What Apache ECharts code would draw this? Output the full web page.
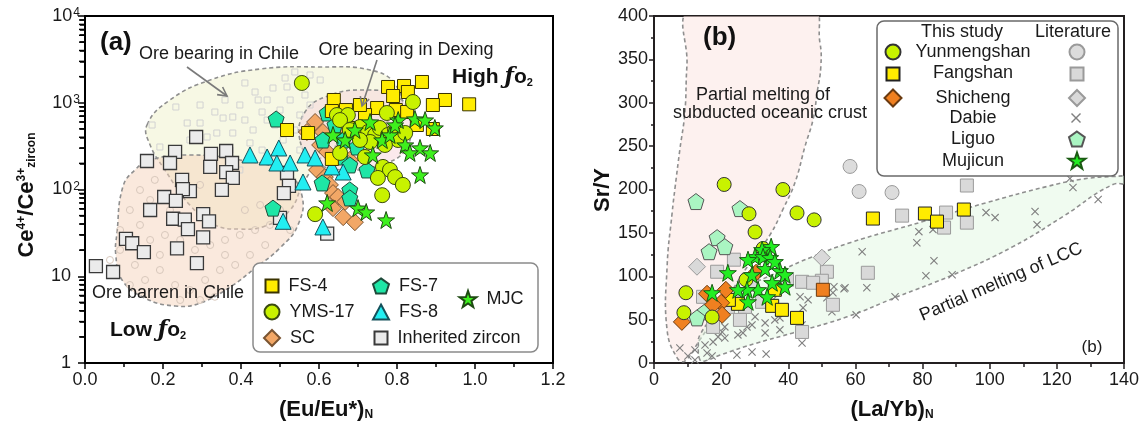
<!DOCTYPE html>
<html><head><meta charset="utf-8">
<script src="https://cdn.jsdelivr.net/npm/echarts/dist/echarts.min.js"></script>
<style>html,body{margin:0;padding:0;background:#fff}#c{width:1146px;height:426px}</style>
</head><body><div id="c"></div>
<script>
// ===== Panel (a): [(Eu/Eu*)N, Ce4+/Ce3+ zircon] =====
const aFS4 = [[0.777,1520],[0.818,1560],[0.864,1735],[0.790,1196],[0.828,1330],[0.638,1076],[0.923,1076],[0.892,942],[0.985,959],[0.749,870],[0.797,824],[0.826,782],[0.633,803],[0.669,824],[0.572,448],[0.518,485],[0.633,225],[0.685,512],[0.851,554],[0.892,498],[0.718,722],[0.705,942]];
const aYMS17 = [[0.556,1690],[0.646,722],[0.674,722],[0.654,632],[0.774,762],[0.841,1020],[0.654,264],[0.718,237],[0.764,182],[0.782,168],[0.751,136],[0.795,139],[0.815,113],[0.762,86],[0.590,52],[0.705,525],[0.726,460],[0.744,425],[0.756,512],[0.777,425],[0.795,485],[0.803,372],[0.769,326],[0.731,353],[0.705,372],[0.821,448],[0.679,485]];
const aSC = [[0.590,600],[0.569,460],[0.610,460],[0.603,326],[0.621,271],[0.595,168],[0.615,139],[0.628,113],[0.636,91],[0.649,82],[0.667,72],[0.636,61],[0.662,48],[0.692,42],[0.679,219],[0.654,485]];
const aFS7 = [[0.490,650],[0.482,61],[0.621,762],[0.610,372],[0.662,372],[0.654,237],[0.679,192],[0.723,168],[0.608,119],[0.679,99],[0.679,80],[0.697,309],[0.641,554]];
const aFS8 = [[0.423,250],[0.467,237],[0.497,301],[0.492,202],[0.526,202],[0.564,250],[0.590,231],[0.559,122],[0.508,43],[0.610,37],[0.662,159],[0.633,182]];
const aInherited = [[0.285,403],[0.159,213],[0.231,271],[0.218,202],[0.323,257],[0.362,278],[0.321,182],[0.377,202],[0.362,159],[0.379,136],[0.351,99],[0.249,129],[0.269,96],[0.251,101],[0.203,82],[0.233,74],[0.167,58],[0.303,52],[0.318,43],[0.226,46],[0.256,45],[0.264,35],[0.303,28],[0.105,27],[0.121,24],[0.151,19],[0.236,21],[0.287,14.2],[0.028,13.1],[0.072,11.2],[0.518,155],[0.523,110],[0.510,91],[0.500,47],[0.621,31]];
const aMJC = [[0.803,632],[0.846,650],[0.872,632],[0.897,512],[0.636,425],[0.692,485],[0.731,600],[0.762,372],[0.782,425],[0.821,326],[0.859,301],[0.885,264],[0.833,264],[0.738,250],[0.859,147],[0.621,70],[0.700,61],[0.721,55],[0.772,44.5],[0.667,372],[0.795,554]];
// faint literature points (Chile)
const aChileOre = [[0.538,2262],[0.518,1520],[0.482,1479],[0.467,1076],[0.444,1076],[0.410,1690],[0.379,685],[0.354,667],[0.295,584],[0.262,584],[0.233,893],[0.172,554],[0.192,309],[0.313,403],[0.379,448],[0.431,485],[0.467,632],[0.500,824],[0.526,1076],[0.423,344],[0.338,448],[0.551,1603],[0.577,2089],[0.564,1228],[0.454,782],[0.487,554],[0.508,372],[0.397,942],[0.359,1076],[0.551,722],[0.538,485],[0.454,285],[0.372,285],[0.295,942],[0.577,942],[0.603,1829],[0.436,1330],[0.513,1928],[0.410,632],[0.333,782],[0.269,372],[0.474,219],[0.397,168],[0.551,285]];
const aChileBarren = [[0.115,58],[0.141,39],[0.167,26.2],[0.205,29.9],[0.244,26.2],[0.282,20.1],[0.321,22.9],[0.359,26.2],[0.397,29.9],[0.436,34.1],[0.474,39],[0.090,20.1],[0.128,13.5],[0.154,9.06],[0.192,11.8],[0.231,7.93],[0.269,6.94],[0.308,9.06],[0.346,11.8],[0.385,13.5],[0.423,17.6],[0.462,22.9],[0.295,5.32],[0.333,5.8],[0.244,5.32],[0.192,17.6],[0.115,7.93],[0.090,34.1],[0.500,58],[0.526,34.1],[0.410,58],[0.167,75.7],[0.218,58],[0.141,98.7],[0.359,17.6],[0.282,13.5],[0.064,15.4],[0.449,66.3],[0.179,129],[0.295,113]];
// field outlines (a)
const aRegionChileOre = [[0.159,554],[0.218,1076],[0.321,1829],[0.449,2449],[0.603,2583],[0.731,2386],[0.795,1645],[0.808,824],[0.731,485],[0.628,285],[0.564,129],[0.526,58],[0.462,38],[0.397,35],[0.333,39],[0.269,66],[0.205,168],[0.167,326]];
const aRegionChileBarren = [[0.082,31.5],[0.097,107],[0.128,168],[0.167,219],[0.269,250],[0.397,219],[0.513,159],[0.556,86],[0.546,39],[0.500,21.2],[0.436,12.4],[0.372,7.5],[0.295,4.9],[0.231,4.54],[0.154,5.6],[0.095,9.06],[0.079,17.6]];
const aRegionDexing = [[0.551,372],[0.564,782],[0.623,1196],[0.718,1403],[0.803,1165],[0.833,632],[0.821,285],[0.756,192],[0.667,168],[0.590,207]];
const aMinorY = [2,3,4,5,6,7,8,9,20,30,40,50,60,70,80,90,200,300,400,500,600,700,800,900,2000,3000,4000,5000,6000,7000,8000,9000];

// ===== Panel (b): [(La/Yb)N, Sr/Y] =====
const bYmsThis = [[20.9,205.8],[38.4,200],[28.3,172],[42.6,173],[47.7,165],[30.1,151],[32.5,132],[27.4,96],[9.5,81],[8.9,58],[17.3,53]];
const bFsThis = [[25.0,68.2],[35.2,65.9],[38.1,61.3],[42.6,52.0],[65.2,166.5],[80.7,172.3],[84.3,163.0],[92.3,176.9],[36.0,84.4],[22.3,72.8]];
const bScThis = [[8.3,47.4],[15.8,79.8],[21.4,84.4],[20.0,69.4],[20.3,55.5],[30.4,104.0],[17.6,67.1]];
const bScThisSq = [[50.3,84.4]];
const bYmsLit = [[58.4,226.6],[61.1,197.7],[70.9,196.5]];
const bFsLit = [[93.2,204.6],[73.9,169.9],[87.0,173.4],[86.4,156.1],[93.2,161.8],[63.7,104.0],[51.5,105.2],[50.0,94.8],[44.1,93.6],[47.4,92.5],[39.6,96.0],[29.2,90.2],[23.8,119.1],[18.8,105.2],[14.6,76.3],[25.0,72.8],[27.1,64.7],[25.6,49.7],[17.6,41.6],[44.1,35.8],[53.3,67.1],[32.2,70.5],[22.0,64.7]];
const bScLit = [[12.8,111],[50.0,121.4]];
const bDabie = [[7.7,17.3],[10.1,8.1],[12.2,15.0],[15.8,11.6],[17.3,8.1],[17.6,24.3],[19.1,30.1],[21.1,28.9],[20.3,35.8],[21.1,41.6],[25.0,32.4],[26.5,34.7],[24.7,9.2],[29.2,12.7],[33.4,10.4],[27.7,41.6],[29.2,43.9],[30.1,53.2],[33.1,46.2],[33.1,34.7],[36.0,49.7],[37.5,38.2],[37.5,52.0],[35.4,72.8],[43.5,76.3],[44.4,63.6],[45.9,72.8],[44.1,43.9],[44.1,23.1],[51.5,75.1],[53.3,80.9],[53.0,59.0],[56.6,85.5],[60.2,55.5],[63.4,86.7],[62.0,128.3],[56.9,86.7],[53.6,87.9],[71.8,76.3],[81.0,100.6],[83.4,117.9],[78.3,138.7],[78.9,151.4],[83.1,153.8],[88.8,101.7],[98.9,173.4],[101.6,167.6],[113.5,174.6],[114.1,159.5],[123.9,212.7],[124.8,202.3],[132.3,188.4],[12.2,3.5],[15.2,20.8]];
const bLiguo = [[12.5,186.1],[25.6,178.0],[18.8,144.5],[16.4,128.3],[21.1,134.1],[15.2,59.0],[12.8,52.0]];
const bMujicun = [[34.9,134.1],[32.2,130.6],[30.1,122.5],[28.0,119.1],[32.5,122.5],[34.6,121.4],[33.1,108.7],[37.5,106.4],[39.0,101.7],[22.0,104.0],[35.2,92.5],[39.0,87.9],[31.0,84.4],[27.7,84.4],[25.0,84.4],[17.3,80.9],[28.0,70.5],[33.7,76.3],[36.0,116.8],[29.2,101.7]];
const bRegionOceanic = [[11.3,410],[9.8,342],[9.2,289],[7.7,246],[6.3,203],[5.4,173],[3.9,111],[3.9,38],[6.9,5.8],[9.2,2.3],[13.7,27],[19.7,61],[27.1,107],[34.6,148],[38.4,177],[42.0,208],[45.0,250],[47.4,281],[48.6,312],[49.7,342],[49.4,370],[46.8,410]];
const bRegionLCC = [[13.7,3.5],[13.2,20],[13.7,32.4],[18.2,55.5],[25.6,82.1],[38.4,107.5],[46.5,121.4],[58.4,138.7],[80.1,163],[99.2,185],[117.1,203.5],[126.9,211.6],[136.7,215],[142,214],[142,206],[136.7,205.8],[121.8,168.8],[106.9,134.1],[89.1,101.7],[72.4,76.3],[57.5,53.2],[41.4,34.7],[30.7,23.1],[19.7,9.2],[15.2,2.3]];

const FONT = '"Liberation Sans", Arial, Helvetica, sans-serif';
const STAR = 'path://M50,0 L61.76,33.82 L97.55,34.55 L69.02,56.18 L79.39,90.45 L50,70 L20.61,90.45 L30.98,56.18 L2.45,34.55 L38.24,33.82 Z';
const PENT = 'path://M50,0 L97.55,34.55 L79.39,90.45 L20.61,90.45 L2.45,34.55 Z';
const CROSS = 'path://M0,10 L10,0 L50,40 L90,0 L100,10 L60,50 L100,90 L90,100 L50,60 L10,100 L0,90 L40,50 Z';

function sc(name, data, symbol, size, color, border, gi, z, bw) {
  return {type:'scatter', name, data, symbol, symbolSize:size, xAxisIndex:gi, yAxisIndex:gi,
    itemStyle:{color, borderColor:border, borderWidth: bw===undefined?1:bw, opacity:1},
    z: z||3, silent:true, emphasis:{disabled:true}, animation:false};
}
function region(pts, fill, gi, z) {
  return {type:'custom', xAxisIndex:gi, yAxisIndex:gi, data:[[pts[0][0], pts[0][1]]], clip:true, silent:true, z: z||1,
    renderItem:(p, api)=>({type:'polygon', shape:{points: pts.map(q=>api.coord(q)), smooth:0.45},
      style:{fill, stroke:'#8f8f8f', lineWidth:1.6, lineDash:[4,3]}})};
}

const axisBase = (color)=>({
  axisLine:{show:true, onZero:false, lineStyle:{color, width:2}},
  axisTick:{show:true, inside:false, lineStyle:{color, width:1.5}},
  minorTick:{show:true, splitNumber:2, lineStyle:{color, width:1.5}},
  splitLine:{show:false}, minorSplitLine:{show:false},
  axisLabel:{fontSize:18, color:'#1a1a1a', fontFamily:FONT}
});
function mergeDeep(a,b){const r=JSON.parse(JSON.stringify(a));for(const k in b){if(b[k]&&typeof b[k]==='object'&&!Array.isArray(b[k])&&r[k]&&typeof r[k]==='object'){r[k]=Object.assign({},r[k],b[k]);}else r[k]=b[k];}return r;}

const xA = mergeDeep(axisBase('#000'), {gridIndex:0, type:'value', min:0, max:1.2, interval:0.2});
xA.axisTick.length = 6; xA.minorTick.length = 4; xA.axisLabel.margin = 8; xA.axisLabel.formatter = v=>v.toFixed(1);
const yA = mergeDeep(axisBase('#000'), {gridIndex:0, type:'log', logBase:10, min:1, max:10000});
yA.axisTick.length = 7; yA.minorTick = {show:false}; yA.axisLabel.margin = 5;
yA.axisLabel.formatter = v=>{const e=Math.round(Math.log10(v)); if(e===0) return '{p|1}'; if(e===1) return '{p|10}'; return '10{sup|'+e+'}';};
yA.axisLabel.rich = {p:{fontSize:18, fontFamily:FONT, color:'#1a1a1a', padding:[0,9,0,0]}, sup:{fontSize:12, fontFamily:FONT, color:'#1a1a1a', verticalAlign:'top', padding:[0,0,6,1]}};
// overlay log axis carrying only the 2..9 minor ticks of panel (a)
const yAminor = {gridIndex:0, type:'log', logBase:10, min:1, max:10000, position:'left', offset:0,
  axisLine:{show:false}, axisLabel:{show:false}, splitLine:{show:false}, minorTick:{show:false},
  axisTick:{show:true, inside:false, length:5, customValues:aMinorY, lineStyle:{color:'#000', width:1.5}}};
const xB = mergeDeep(axisBase('#231f20'), {gridIndex:1, type:'value', min:0, max:140, interval:20});
xB.axisTick.length = 6; xB.minorTick.length = 4; xB.axisLabel.margin = 8;
const yB = mergeDeep(axisBase('#231f20'), {gridIndex:1, type:'value', min:0, max:400, interval:50});
yB.axisTick.length = 5; yB.minorTick.length = 3; yB.axisLabel.margin = 6;

const series = [
  region(aRegionChileOre, 'rgba(240,242,205,0.55)', 0, 1),
  region(aRegionChileBarren, 'rgba(246,212,188,0.5)', 0, 1),
  region(aRegionDexing, 'rgba(248,215,220,0.55)', 0, 1),
  sc('Chile ore lit', aChileOre, 'rect', 6, 'rgba(255,255,255,0)', '#d2d2d2', 0, 2),
  sc('Chile barren lit', aChileBarren, 'circle', 7, 'rgba(255,255,255,0)', '#d8c8bc', 0, 2),
  sc('Inherited zircon', aInherited, 'rect', 13, '#ebebeb', '#3a3a3a', 0, 3, 1.3),
  sc('SC', aSC, 'diamond', 17, '#f2a766', '#7a5432', 0, 3),
  sc('FS-7', aFS7, PENT, 16, '#1ee6a6', '#1f4a3a', 0, 3),
  sc('FS-8', aFS8, 'triangle', 16, '#22eef2', '#14505a', 0, 3),
  sc('FS-4', aFS4, 'rect', 13, '#ffec00', '#3a3300', 0, 3),
  sc('YMS-17', aYMS17, 'circle', 15, '#c8f200', '#3a4a10', 0, 3),
  sc('MJC', aMJC, STAR, 17, '#3ef01e', '#1e4a12', 0, 4),
  region(bRegionOceanic, 'rgba(252,228,224,0.5)', 1, 1),
  region(bRegionLCC, 'rgba(225,247,225,0.5)', 1, 1),
  sc('Dabie', bDabie, CROSS, 8, '#808080', '#808080', 1, 2, 0),
  sc('Fangshan (lit)', bFsLit, 'rect', 13, '#d9d9d9', '#9a9a9a', 1, 2),
  sc('Yunmengshan (lit)', bYmsLit, 'circle', 14, '#dcdcdc', '#9a9a9a', 1, 2),
  sc('Shicheng (lit)', bScLit, 'diamond', 17, '#d9d9d9', '#9a9a9a', 1, 2),
  sc('Liguo', bLiguo, PENT, 16, '#aaf5c2', '#555', 1, 3),
  sc('Fangshan', bFsThis, 'rect', 13, '#ffec00', '#222', 1, 3),
  sc('Shicheng', bScThis, 'diamond', 17, '#f08020', '#6a3a10', 1, 3),
  sc('Shicheng sq', bScThisSq, 'rect', 13, '#f08020', '#6a3a10', 1, 3),
  sc('Yunmengshan', bYmsThis, 'circle', 14, '#c8f200', '#333', 1, 3),
  sc('Mujicun', bMujicun, STAR, 17, '#22ee22', '#1a5a12', 1, 4)
];

function leg(name, cx, cy, w, h, text) {
  const o = {data:[name], orient:'vertical', selectedMode:false, padding:0, itemGap:0, itemWidth:w, itemHeight:h, z:12};
  if (text) {
    o.left = cx - w/2; o.top = cy - 10;
    o.formatter = () => ' ' + name;
    o.textStyle = {fontSize:18, fontFamily:FONT, color:'#1a1a1a', lineHeight:20};
  } else {
    o.left = cx - w/2; o.top = cy - h/2;
    o.formatter = () => '';
    o.textStyle = {fontSize:2, lineHeight:2};
  }
  return o;
}
const legends = [
  leg('FS-4', 271, 286, 13, 13, true), leg('YMS-17', 271, 312, 15, 15, true), leg('SC', 271, 338, 16, 16, true),
  leg('FS-7', 380, 286, 16, 16, true), leg('FS-8', 380, 312, 16, 15, true), leg('Inherited zircon', 380, 338, 13, 13, true),
  leg('MJC', 467, 299, 17, 17, true),
  leg('Yunmengshan', 892, 51, 15, 15, false), leg('Fangshan', 892, 73, 13, 13, false), leg('Shicheng', 892, 97, 17, 17, false),
  leg('Yunmengshan (lit)', 1076, 51, 15, 15, false), leg('Fangshan (lit)', 1076, 73, 13, 13, false), leg('Shicheng (lit)', 1076, 97, 16, 16, false),
  leg('Dabie', 1076, 118, 10, 10, false), leg('Liguo', 1076, 138, 16, 15, false), leg('Mujicun', 1076, 160, 17, 17, false)
];

function txt(x, y, text, o) {
  o = o || {};
  return {type:'text', x, y, rotation:o.rot||0, z:20, silent:true,
    style:{text, fontSize:o.size||18, fontWeight:o.weight||'normal', fontFamily:FONT, fill:o.color||'#1a1a1a',
      align:o.align||'center', verticalAlign:'middle', rich:o.rich}};
}
const fo2Rich = {b:{fontSize:21, fontWeight:'bold', fontFamily:FONT, fill:'#111'}, f:{fontSize:22, fontWeight:'bold', fontStyle:'italic', fontFamily:'"DejaVu Serif", serif', fill:'#111'}, s:{fontSize:11, fontWeight:'bold', fontFamily:FONT, fill:'#111', verticalAlign:'bottom'}};
const subRich = {s:{fontSize:12, fontWeight:'bold', fontFamily:FONT, verticalAlign:'bottom', fill:'#111'}, sup:{fontSize:12, fontWeight:'bold', fontFamily:FONT, verticalAlign:'top', fill:'#111'}};

const graphics = [
  {type:'rect', z:11, silent:true, shape:{x:253, y:263, width:285, height:89, r:7}, style:{fill:'#fff', stroke:'#8a8a8a', lineWidth:1.5}},
  {type:'rect', z:11, silent:true, shape:{x:877, y:21, width:241, height:155, r:7}, style:{fill:'#fff', stroke:'#6a6a6a', lineWidth:1.5}},
  // arrows
  {type:'polyline', z:20, silent:true, shape:{points:[[187,67],[227,96]]}, style:{stroke:'#7a7a7a', lineWidth:1.6, fill:null}},
  {type:'polyline', z:20, silent:true, shape:{points:[[222.6,87],[227,96],[217.1,94.6]]}, style:{stroke:'#7a7a7a', lineWidth:1.6, fill:null}},
  {type:'polyline', z:20, silent:true, shape:{points:[[377,60],[362,106]]}, style:{stroke:'#7a7a7a', lineWidth:1.6, fill:null}},
  {type:'polyline', z:20, silent:true, shape:{points:[[369.2,99.1],[362,106],[360.3,96.2]]}, style:{stroke:'#7a7a7a', lineWidth:1.6, fill:null}},
  txt(100, 43, '(a)', {size:26, weight:'bold', align:'left', color:'#111'}),
  txt(219, 54, 'Ore bearing in Chile'),
  txt(406, 50, 'Ore bearing in Dexing'),
  txt(92, 293, 'Ore barren in Chile', {align:'left'}),
  txt(452, 77, '{b|High }{f|ƒ}{b|o}{s|2}', {align:'left', rich:fo2Rich}),
  txt(110, 330, '{b|Low }{f|ƒ}{b|o}{s|2}', {align:'left', rich:fo2Rich}),
  txt(326, 410, '(Eu/Eu*){s|N}', {size:22, weight:'bold', color:'#111', rich:subRich}),
  txt(27, 195, 'Ce{sup|4+}/Ce{sup|3+}{s|zircon}', {size:22, weight:'bold', color:'#111', rot:Math.PI/2, rich:subRich}),
  txt(703, 38, '(b)', {size:26, weight:'bold', align:'left', color:'#111'}),
  txt(763, 95, 'Partial melting of'),
  txt(770, 113, 'subducted oceanic crust'),
  txt(1001, 282, 'Partial melting of LCC', {rot:0.405}),
  txt(1092, 347, '(b)', {size:17}),
  txt(892, 410, '(La/Yb){s|N}', {size:22, weight:'bold', color:'#111', rich:subRich}),
  txt(603, 190, 'Sr/Y', {size:22, weight:'bold', color:'#111', rot:Math.PI/2}),
  txt(962, 32, 'This study'), txt(1073, 32, 'Literature'),
  txt(973, 52, 'Yunmengshan'), txt(973, 73, 'Fangshan'), txt(973, 98, 'Shicheng'),
  txt(973, 118, 'Dabie'), txt(973, 139, 'Liguo'), txt(973, 161, 'Mujicun')
];

const chart = echarts.init(document.getElementById('c'), null, {renderer:'canvas'});
chart.setOption({
  animation:false, backgroundColor:'#fff',
  grid:[
    {left:85, right:593, top:16, bottom:63, show:true, borderColor:'#000', borderWidth:2, backgroundColor:'rgba(0,0,0,0)', containLabel:false, outerBoundsMode:'none'},
    {left:654, right:22, top:16, bottom:63, show:true, borderColor:'#231f20', borderWidth:2, backgroundColor:'rgba(0,0,0,0)', containLabel:false, outerBoundsMode:'none'}
  ],
  xAxis:[xA, xB], yAxis:[yA, yB, yAminor],
  legend: legends,
  tooltip:{show:false},
  series
});
// log-spaced minor ticks on the (a) y axis, positioned through the axis scale
const minorTicks = aMinorY.map(v => {
  const p = chart.convertToPixel({xAxisIndex:0, yAxisIndex:0}, [0, v]);
  return {type:'rect', z:30, silent:true, shape:{x:p[0]-6, y:p[1]-0.75, width:6, height:1.5}, style:{fill:'#000'}};
});
chart.setOption({graphic: minorTicks.concat(graphics)});
</script></body></html>
